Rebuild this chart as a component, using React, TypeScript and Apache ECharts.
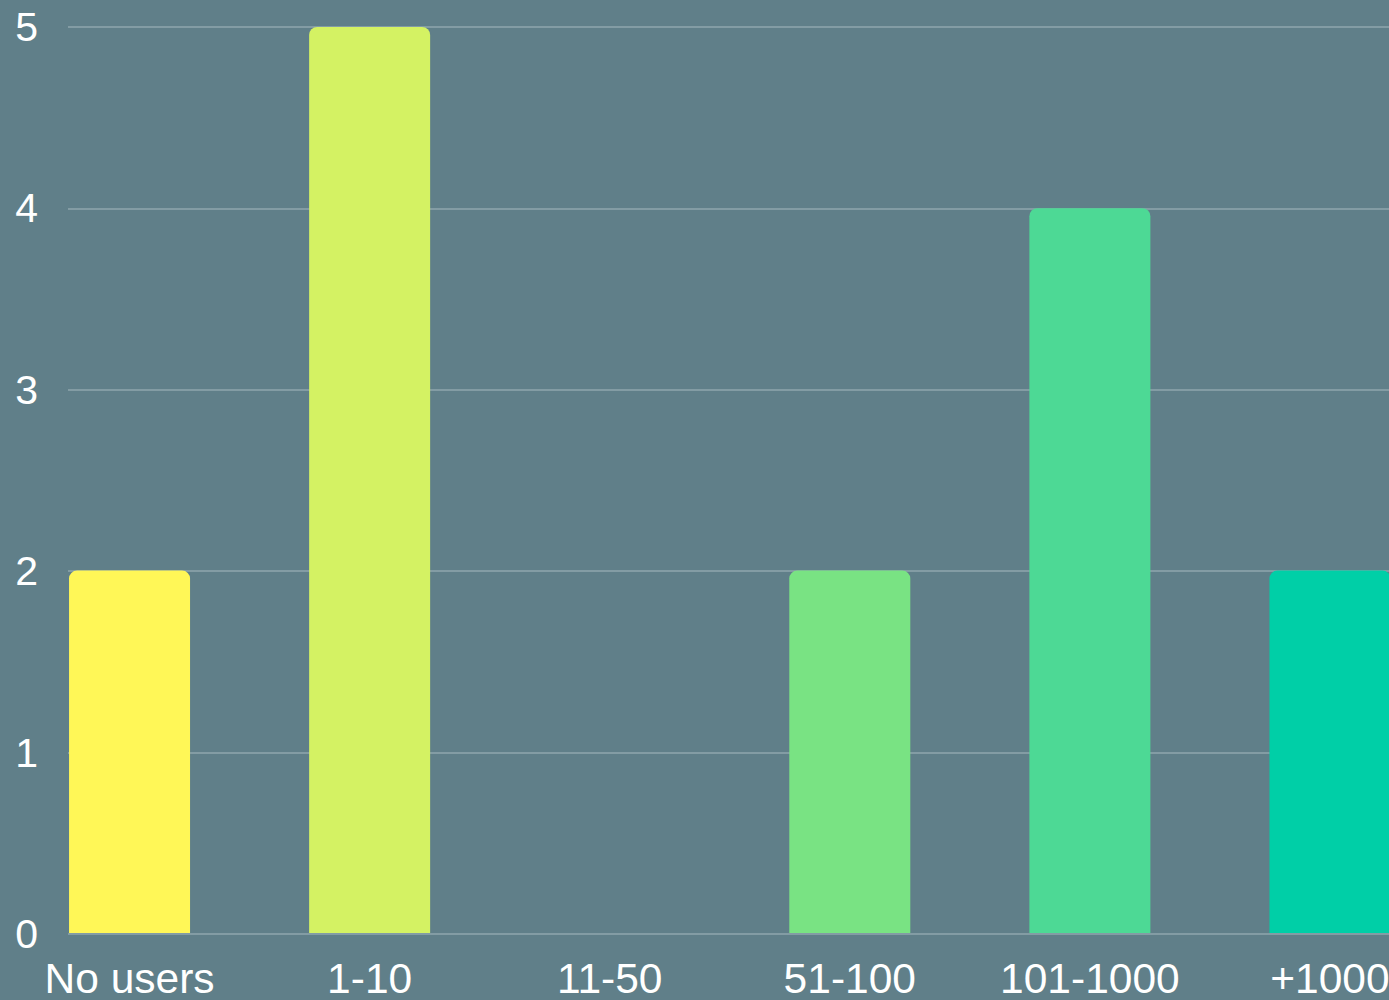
import React, { useEffect, useRef } from "react";
import * as echarts from "echarts";

const categories = ["No users", "1-10", "11-50", "51-100", "101-1000", "+1000"];
const values = [2, 5, 0, 2, 4, 2];
const barColorsAll = ["#fff757", "#d4f263", "#a6eb72", "#79e383", "#4dd995", "#00cfa7"];
const yTicks = [0, 1, 2, 3, 4, 5];

export default function App() {
  const ref = useRef<HTMLDivElement>(null);
  useEffect(() => {
    document.body.style.margin = "0";
    document.body.style.background = "#607f89";
    document.body.style.overflow = "hidden";
    document.documentElement.style.overflow = "hidden";
    if (!ref.current) return;
    const chart = echarts.init(ref.current, undefined, { renderer: "svg" });
    chart.setOption({
      animation: false,
      backgroundColor: "#607f89",
      textStyle: { fontFamily: "Liberation Sans, Arial, sans-serif" },
      grid: [
        { left: 68, right: 0, top: 27, bottom: 66, containLabel: false },
        { left: 9.5, right: 0, top: 27, bottom: 66, containLabel: false },
      ],
      xAxis: [
        { gridIndex: 0, type: "value", show: false, min: 0, max: 1 },
        {
          gridIndex: 1,
          type: "category",
          data: categories,
          boundaryGap: true,
          axisLine: { show: false },
          axisTick: { show: false },
          axisLabel: {
            color: "#ffffff",
            fontSize: 42.5,
            margin: 24,
            interval: 0,
            fontFamily: "Liberation Sans, Arial, sans-serif",
          },
        },
      ],
      yAxis: [
        {
          gridIndex: 0,
          type: "value",
          min: yTicks[0],
          max: yTicks[yTicks.length - 1],
          interval: 1,
          axisLine: { show: false },
          axisTick: { show: false },
          splitLine: { show: true, lineStyle: { color: "#8fa6ae", width: 1.5 } },
          axisLabel: {
            color: "#ffffff",
            fontSize: 41,
            margin: 30,
            fontFamily: "Liberation Sans, Arial, sans-serif",
          },
        },
        {
          gridIndex: 1,
          type: "value",
          min: yTicks[0],
          max: yTicks[yTicks.length - 1],
          show: false,
          splitLine: { show: false },
        },
      ],
      series: [
        {
          type: "bar",
          xAxisIndex: 1,
          yAxisIndex: 1,
          barWidth: 121,
          z: 3,
          data: values.map((v, i) => ({
            value: v,
            itemStyle: { color: barColorsAll[i], borderRadius: [8, 8, 0, 0] },
          })),
        },
      ],
    });
    return () => chart.dispose();
  }, []);
  return <div ref={ref} style={{ width: 1449.5, height: 1000 }} />;
}
